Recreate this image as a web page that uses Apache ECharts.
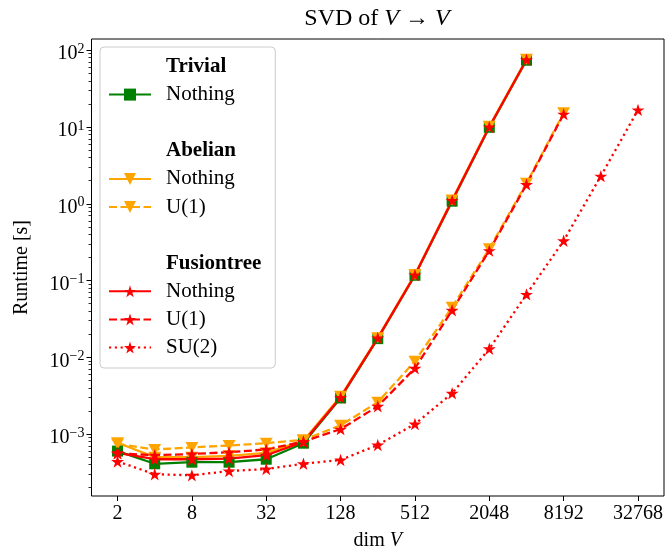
<!DOCTYPE html>
<html>
<head>
<meta charset="utf-8">
<script src="https://cdn.jsdelivr.net/npm/echarts@6/dist/echarts.min.js"></script>
<style>
html, body { margin: 0; padding: 0; background: #fff; }
#chart { width: 667px; height: 549px; }
</style>
</head>
<body>
<div id="chart"></div>
<script>
// dim V of each run
const dimsNothing = [2, 4, 8, 16, 32, 64, 128, 256, 512, 1024, 2048, 4096];
const dimsU1 = [2, 4, 8, 16, 32, 64, 128, 256, 512, 1024, 2048, 4096, 8192];
const dimsSU2 = [2, 4, 8, 16, 32, 64, 128, 256, 512, 1024, 2048, 4096, 8192, 16384, 32768];

// runtimes [s]
const trivialNothing = [6.0e-4, 4.1e-4, 4.3e-4, 4.3e-4, 4.7e-4, 7.6e-4, 2.95e-3, 1.75e-2, 0.117, 1.08, 9.9, 74];
const abelianNothing = [7.7e-4, 5.0e-4, 5.0e-4, 5.2e-4, 5.7e-4, 8.2e-4, 3.1e-3, 1.8e-2, 0.12, 1.12, 10.2, 76];
const abelianU1 = [7.4e-4, 6.3e-4, 6.7e-4, 7.1e-4, 7.6e-4, 8.4e-4, 1.3e-3, 2.6e-3, 8.9e-3, 4.5e-2, 0.26, 1.85, 15.3];
const fusionNothing = [5.7e-4, 4.7e-4, 4.7e-4, 4.8e-4, 5.3e-4, 7.9e-4, 3.0e-3, 1.78e-2, 0.118, 1.1, 10, 75];
const fusionU1 = [5.6e-4, 5.3e-4, 5.5e-4, 5.8e-4, 6.3e-4, 8.0e-4, 1.16e-3, 2.3e-3, 7.2e-3, 4.1e-2, 0.245, 1.78, 14.7];
const fusionSU2 = [4.4e-4, 3.0e-4, 2.9e-4, 3.3e-4, 3.5e-4, 4.1e-4, 4.6e-4, 7.2e-4, 1.35e-3, 3.4e-3, 1.29e-2, 6.6e-2, 0.33, 2.29, 16.7];

// tick labels
const xTicks = [2, 8, 32, 128, 512, 2048, 8192, 32768];
const yTicks = [1e-3, 1e-2, 1e-1, 1, 10, 100];

const FONT = 'Liberation Serif';
const STAR = 'path://M100 0 L122.45 69.1 L195.11 69.1 L136.33 111.8 L158.78 180.9 L100 138.2 L41.22 180.9 L63.67 111.8 L4.89 69.1 L77.55 69.1 Z';

// minor ticks of the y axis, 2..9 x 10^k
const yMinor = [];
for (let k = -4; k <= 2; k++) {
    for (let m = 2; m <= 9; m++) yMinor.push(m * Math.pow(10, k));
}

function run (name, dims, vals, color, symbol, size, dash, rotate) {
    return {
        name,
        type: 'line',
        data: dims.map((d, i) => [d, vals[i]]),
        symbol,
        symbolSize: size,
        symbolRotate: rotate || 0,
        itemStyle: { color },
        lineStyle: { color, width: 2.3, type: dash, cap: 'butt' },
        emphasis: { disabled: true },
        animation: false
    };
}

// empty entries, only there to put headers / gaps in the legend
function blank (name) {
    return { name, type: 'line', data: [], symbol: 'none', lineStyle: { width: 0 } };
}

const supFmt = v => {
    const e = Math.round(Math.log10(v));
    return '{b|10}{s|' + (e < 0 ? '\u2212' + (-e) : e) + '}';
};

const chart = echarts.init(document.getElementById('chart'), null, { renderer: 'canvas' });

chart.setOption({
    animation: false,
    backgroundColor: '#fff',
    textStyle: { fontFamily: FONT, color: '#000' },
    title: {
        text: '{n|SVD of }{i|V}{n| \u2192 }{i|V}',
        left: 377,
        top: 7,
        padding: 0,
        textAlign: 'center',
        textStyle: {
            fontWeight: 'normal',
            rich: {
                n: { fontFamily: FONT, fontSize: 24, fontWeight: 'normal', color: '#000' },
                i: { fontFamily: FONT, fontSize: 24, fontWeight: 'normal', fontStyle: 'italic', color: '#000' }
            }
        }
    },
    grid: {
        left: 91.5, right: 3, top: 39, bottom: 53,
        show: true, borderColor: '#000', borderWidth: 1,
        outerBoundsMode: 'none'
    },
    legend: {
        orient: 'vertical',
        left: 100,
        top: 47,
        padding: [9, 14, 10, 8],
        itemWidth: 42,
        itemHeight: 15,
        itemGap: 7.1,
        selectedMode: false,
        backgroundColor: 'rgba(255,255,255,0.8)',
        borderColor: '#cccccc',
        borderWidth: 1,
        borderRadius: 4,
        textStyle: { fontFamily: FONT, fontSize: 21, color: '#000', lineHeight: 20, padding: [0, 0, 0, 10] },
        formatter: n => n.indexOf('|') >= 0 ? n.split('|')[1] : n,
        data: [
            { name: 'Trivial', icon: 'none', textStyle: { fontWeight: 'bold' } },
            'Trivial|Nothing',
            { name: '\u00a0', icon: 'none' },
            { name: 'Abelian', icon: 'none', textStyle: { fontWeight: 'bold' } },
            'Abelian|Nothing',
            'Abelian|U(1)',
            { name: '\u00a0\u00a0', icon: 'none' },
            { name: 'Fusiontree', icon: 'none', textStyle: { fontWeight: 'bold' } },
            'Fusiontree|Nothing',
            'Fusiontree|U(1)',
            'Fusiontree|SU(2)'
        ]
    },
    xAxis: {
        type: 'log',
        logBase: 2,
        min: 1.231,
        max: 53200,
        name: '{n|dim }{i|V}',
        nameLocation: 'middle',
        nameGap: 35,
        nameTextStyle: {
            rich: {
                n: { fontFamily: FONT, fontSize: 20, color: '#000' },
                i: { fontFamily: FONT, fontSize: 20, fontStyle: 'italic', color: '#000' }
            }
        },
        axisLine: { show: false },
        splitLine: { show: false },
        axisTick: { show: true, length: 5, customValues: xTicks, lineStyle: { color: '#000', width: 1 } },
        axisLabel: {
            customValues: xTicks,
            formatter: v => String(Math.round(v)),
            fontFamily: FONT, fontSize: 20, color: '#000', margin: 8
        }
    },
    yAxis: [{
        type: 'log',
        logBase: 10,
        min: 1.56e-4,
        max: 140,
        name: 'Runtime [s]',
        nameLocation: 'middle',
        nameGap: 60,
        nameTextStyle: { fontFamily: FONT, fontSize: 20, color: '#000' },
        axisLine: { show: false },
        splitLine: { show: false },
        axisTick: { show: true, length: 5, customValues: yTicks, lineStyle: { color: '#000', width: 1 } },
        axisLabel: {
            customValues: yTicks,
            margin: 7,
            padding: [8, 0, 0, 0],
            formatter: supFmt,
            rich: {
                b: { fontFamily: FONT, fontSize: 20, lineHeight: 24, color: '#000' },
                s: { fontFamily: FONT, fontSize: 14, lineHeight: 14, verticalAlign: 'top', color: '#000' }
            }
        }
    }, {
        type: 'log',
        logBase: 10,
        min: 1.56e-4,
        max: 140,
        position: 'left',
        axisLine: { show: false },
        splitLine: { show: false },
        axisLabel: { show: false },
        axisTick: { show: true, length: 3, customValues: yMinor, lineStyle: { color: '#000', width: 0.8 } }
    }],
    series: [
        blank('Trivial'),
        run('Trivial|Nothing', dimsNothing, trivialNothing, 'green', 'rect', 11, 'solid'),
        blank('\u00a0'),
        blank('Abelian'),
        run('Abelian|Nothing', dimsNothing, abelianNothing, 'orange', 'triangle', [13, 11], 'solid', 180),
        run('Abelian|U(1)', dimsU1, abelianU1, 'orange', 'triangle', [13, 11], [8, 3.5], 180),
        blank('\u00a0\u00a0'),
        blank('Fusiontree'),
        run('Fusiontree|Nothing', dimsNothing, fusionNothing, 'red', STAR, [13, 12.4], 'solid'),
        run('Fusiontree|U(1)', dimsU1, fusionU1, 'red', STAR, [13, 12.4], [8, 3.5]),
        run('Fusiontree|SU(2)', dimsSU2, fusionSU2, 'red', STAR, [13, 12.4], [2.2, 3.6])
    ]
});
</script>
</body>
</html>
